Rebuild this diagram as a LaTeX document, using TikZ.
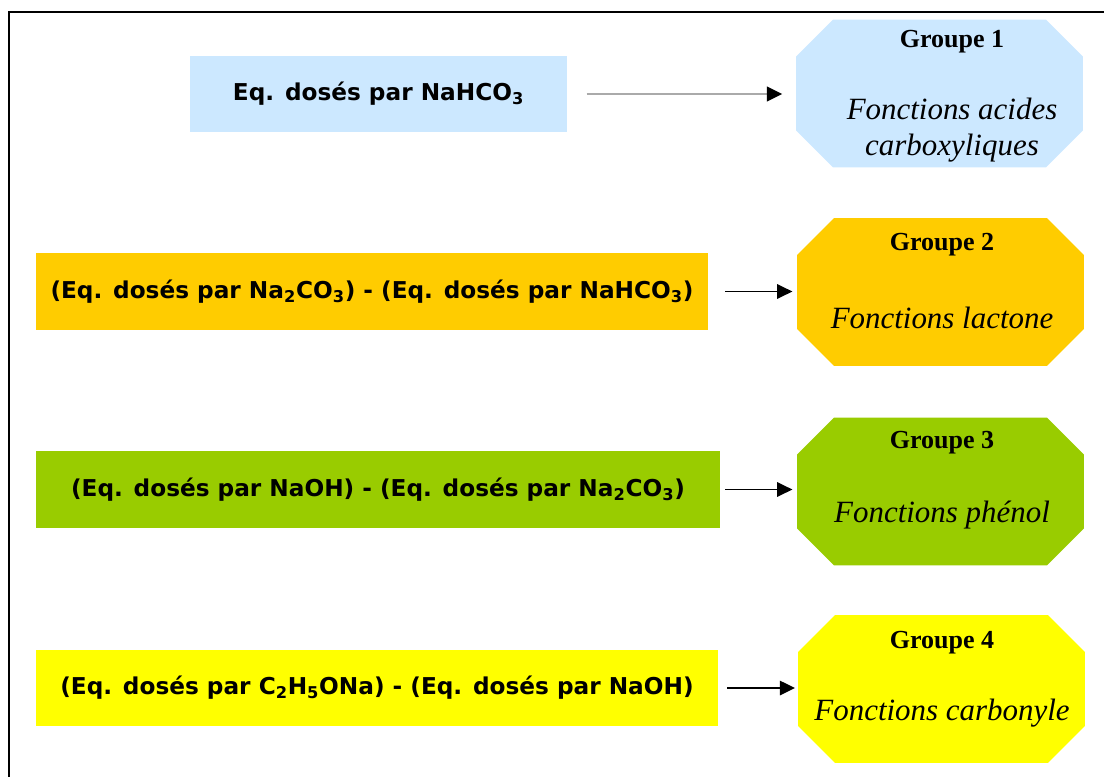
\documentclass[tikz,border=0pt]{standalone}
\usepackage{fontspec}
\setmainfont{Liberation Serif}
\newfontfamily\eqfont{DejaVu Sans}
\usetikzlibrary{arrows.meta}
\definecolor{grpBlue}{HTML}{CCE8FF}
\definecolor{grpOrange}{HTML}{FFCC00}
\definecolor{grpGreen}{HTML}{99CC00}
\definecolor{grpYellow}{HTML}{FFFF00}
\definecolor{arrGray}{HTML}{AAAAAA}

\begin{document}
\begin{tikzpicture}[x=0.025cm, y=-0.025cm,
  eqbox/.style={rectangle, inner sep=0pt, minimum height=1.9cm,
    font=\eqfont\bfseries\fontsize{16.5}{20}\selectfont},
  grp/.style={rectangle, inner sep=0pt, minimum width=7.15cm, minimum height=3.68cm},
  ttl/.style={font=\bfseries\fontsize{18.5}{21}\selectfont},
  fct/.style={font=\itshape\fontsize{22}{26}\selectfont, align=center},
  link/.style={line width=1.4pt, -{Triangle[length=0.38cm,width=0.36cm,black]}}]
  \useasboundingbox (0,0) rectangle (1104,776);
  \clip (0,0) rectangle (1104,776);
  \draw[line width=1.6pt] (9,12) rectangle (1120,800);
% --- left boxes ---
  \node[eqbox, fill=grpBlue, minimum width=9.43cm] (b1) at (378.5,94) {Eq. dosés par NaHCO\textsubscript{3}};
  \node[eqbox, fill=grpOrange, minimum width=16.8cm] (b2) at (372,291.5) {(Eq. dosés par Na\textsubscript{2}CO\textsubscript{3}) - (Eq. dosés par NaHCO\textsubscript{3})};
  \node[eqbox, fill=grpGreen, minimum width=17.1cm] (b3) at (378,489.5) {(Eq. dosés par NaOH) - (Eq. dosés par Na\textsubscript{2}CO\textsubscript{3})};
  \node[eqbox, fill=grpYellow, minimum width=17.05cm] (b4) at (377,688) {(Eq. dosés par C\textsubscript{2}H\textsubscript{5}ONa) - (Eq. dosés par NaOH)};
% --- groups (octagons) ---
  \node[grp] (g1) at (939.5,93.5) {};
  \node[grp] (g2) at (940.5,292) {};
  \node[grp] (g3) at (940.5,491.5) {};
  \node[grp] (g4) at (941.5,689) {};
  \foreach \g/\c in {g1/grpBlue, g2/grpOrange, g3/grpGreen, g4/grpYellow}
    \fill[\c] ([xshift=0.92cm]\g.north west) -- ([xshift=-0.92cm]\g.north east)
      -- ([yshift=-0.92cm]\g.north east) -- ([yshift=0.92cm]\g.south east)
      -- ([xshift=-0.92cm]\g.south east) -- ([xshift=0.92cm]\g.south west)
      -- ([yshift=0.92cm]\g.south west) -- ([yshift=-0.92cm]\g.north west) -- cycle;
  \node[ttl] (t1) at (952,42) {Groupe 1};
  \node[ttl] (t2) at (942,245) {Groupe 2};
  \node[ttl] (t3) at (942,443) {Groupe 3};
  \node[ttl] (t4) at (942,643) {Groupe 4};
  \node[fct] (f1) at (952,130) {Fonctions acides\\carboxyliques};
  \node[fct] (f2) at (942,318) {Fonctions lactone};
  \node[fct] (f3) at (942,515) {Fonctions phénol};
  \node[fct] (f4) at (942,713) {Fonctions carbonyle};
% --- arrows ---
  \draw[link, draw=arrGray, line width=2pt, shorten <=0.48cm, shorten >=0.35cm] (b1.east) -- (b1.east -| g1.west);
  \draw[link, shorten <=0.42cm, shorten >=0.12cm] (b2.east) -- (b2.east -| g2.west);
  \draw[link, shorten <=0.12cm, shorten >=0.12cm] (b3.east) -- (b3.east -| g3.west);
  \draw[link, shorten <=0.22cm, shorten >=0.08cm] (b4.east) -- (b4.east -| g4.west);
\end{tikzpicture}
\end{document}
